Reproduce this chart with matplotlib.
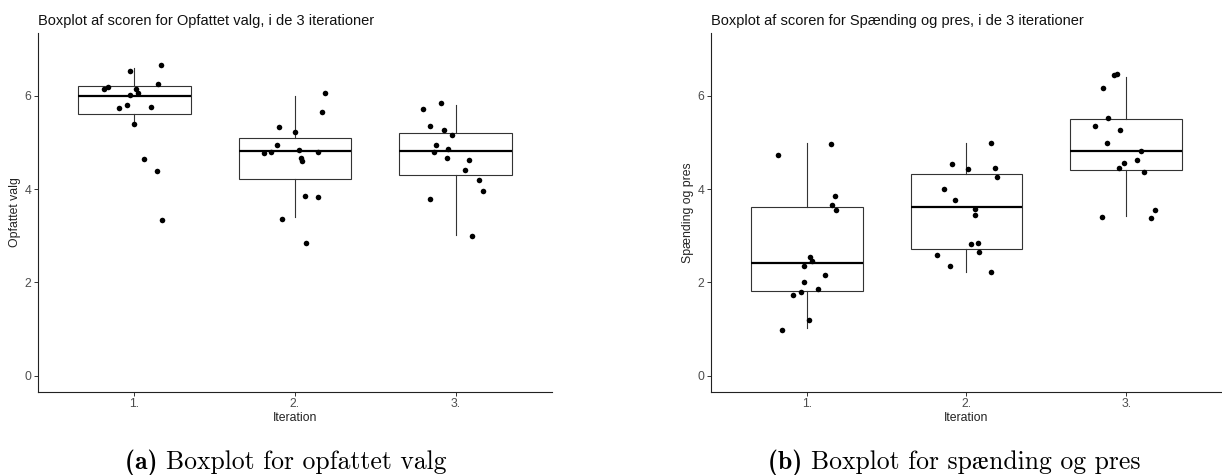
import matplotlib
matplotlib.use("Agg")
import matplotlib.pyplot as plt

plt.rcParams['font.family'] = ['Liberation Sans', 'DejaVu Sans']

iterations = ["1.", "2.", "3."]

# Opfattet valg: box statistics per iteration
valg_lo = [5.40, 3.41, 3.02]
valg_q1 = [5.61, 4.21, 4.31]
valg_med = [6.00, 4.82, 4.82]
valg_q3 = [6.21, 5.10, 5.20]
valg_hi = [6.60, 6.00, 5.81]

# jittered points (x incl. jitter, y score)
valg_x1 = [1.167, 0.972, 1.148, 0.833, 0.810, 1.013, 1.022, 0.972, 0.953, 0.903, 1.105, 1.000, 1.059, 1.142, 1.171]
valg_y1 = [6.66, 6.54, 6.25, 6.19, 6.14, 6.14, 6.07, 6.03, 5.80, 5.75, 5.77, 5.40, 4.65, 4.38, 3.35]
valg_x2 = [2.185, 2.166, 1.902, 2.002, 1.888, 2.023, 1.805, 1.849, 2.143, 2.040, 2.042, 2.060, 2.143, 1.917, 2.070]
valg_y2 = [6.06, 5.66, 5.34, 5.23, 4.95, 4.85, 4.78, 4.80, 4.80, 4.66, 4.60, 3.86, 3.84, 3.37, 2.85]
valg_x3 = [2.910, 2.795, 2.842, 2.930, 2.975, 2.877, 2.950, 2.867, 2.946, 3.085, 3.058, 3.143, 3.170, 2.838, 3.100]
valg_y3 = [5.85, 5.73, 5.35, 5.26, 5.16, 4.95, 4.87, 4.79, 4.66, 4.63, 4.42, 4.19, 3.96, 3.79, 2.99]

# Spaending og pres
pres_lo = [1.03, 2.22, 3.42]
pres_q1 = [1.81, 2.71, 4.41]
pres_med = [2.42, 3.61, 4.82]
pres_q3 = [3.61, 4.32, 5.50]
pres_hi = [5.00, 5.00, 6.40]

pres_x1 = [1.154, 0.819, 1.176, 1.158, 1.183, 1.020, 1.033, 0.983, 1.114, 0.983, 1.070, 0.963, 0.915, 1.012, 0.842]
pres_y1 = [4.96, 4.73, 3.86, 3.66, 3.56, 2.55, 2.47, 2.35, 2.17, 2.01, 1.85, 1.79, 1.74, 1.19, 0.99]
pres_x2 = [2.153, 1.910, 2.012, 2.176, 2.190, 1.857, 1.925, 2.056, 2.052, 2.031, 2.070, 2.080, 1.813, 1.894, 2.153]
pres_y2 = [5.00, 4.53, 4.43, 4.46, 4.26, 4.01, 3.77, 3.58, 3.45, 2.83, 2.85, 2.65, 2.58, 2.35, 2.23]
pres_x3 = [2.921, 2.942, 2.852, 2.888, 2.805, 2.961, 2.880, 3.095, 3.069, 2.986, 2.955, 3.112, 3.181, 2.849, 3.156]
pres_y3 = [6.46, 6.47, 6.16, 5.53, 5.35, 5.28, 5.00, 4.83, 4.63, 4.56, 4.46, 4.37, 3.56, 3.40, 3.38]


def panel(ax, lo, q1, med, q3, hi, xs, ys, title, ylabel, caption, cap_x):
    stats = []
    for i in range(3):
        stats.append({"whislo": lo[i], "q1": q1[i], "med": med[i],
                      "q3": q3[i], "whishi": hi[i], "fliers": []})
    ax.bxp(stats, positions=[1, 2, 3], widths=0.7, showcaps=False,
           showfliers=False, patch_artist=True,
           boxprops=dict(facecolor="white", edgecolor="#333333", linewidth=0.8),
           whiskerprops=dict(color="#333333", linewidth=0.8),
           medianprops=dict(color="black", linewidth=1.6))
    for x, y in zip(xs, ys):
        ax.scatter(x, y, s=16, color="black", zorder=3, linewidths=0)

    ax.set_xlim(0.4, 3.6)
    ax.set_ylim(-0.35, 7.35)
    ax.set_xticks([1, 2, 3])
    ax.set_xticklabels(iterations)
    ax.set_yticks([0, 2, 4, 6])
    for s in ["top", "right"]:
        ax.spines[s].set_visible(False)
    for s in ["left", "bottom"]:
        ax.spines[s].set_color("#222222")
        ax.spines[s].set_linewidth(0.8)
    ax.tick_params(colors="#333333", labelcolor="#4d4d4d", labelsize=8.8,
                   length=2.6, width=0.7, pad=2)
    ax.set_xlabel("Iteration", fontsize=8.8, color="#222222", labelpad=1)
    ax.set_ylabel(ylabel, fontsize=8.8, color="#222222", labelpad=3)
    ax.set_title(title, fontsize=10.5, loc="left", x=0.0, pad=6, color="#111111")

    fig = ax.figure
    fig.text(cap_x, 0.0126, caption[0] + " ", ha="right", va="baseline",
             fontsize=18.5, family=["cmb10", "STIXGeneral"])
    fig.text(cap_x, 0.0126, caption[1], ha="left", va="baseline",
             fontsize=18.5, family=["cmr10", "STIXGeneral"])


fig = plt.figure(figsize=(12.22, 4.75), dpi=100)
ax1 = fig.add_axes([0.0311, 0.1747, 0.4206, 0.7558])
ax2 = fig.add_axes([0.5818, 0.1747, 0.4182, 0.7558])

panel(ax1, valg_lo, valg_q1, valg_med, valg_q3, valg_hi,
      [valg_x1, valg_x2, valg_x3], [valg_y1, valg_y2, valg_y3],
      "Boxplot af scoren for Opfattet valg, i de 3 iterationer", "Opfattet valg",
      ("(a)", "Boxplot for opfattet valg"), 166 / 1222)
panel(ax2, pres_lo, pres_q1, pres_med, pres_q3, pres_hi,
      [pres_x1, pres_x2, pres_x3], [pres_y1, pres_y2, pres_y3],
      "Boxplot af scoren for Spænding og pres, i de 3 iterationer", "Spænding og pres",
      ("(b)", "Boxplot for spænding og pres"), 811 / 1222)

fig.savefig("out.png", dpi=100)
